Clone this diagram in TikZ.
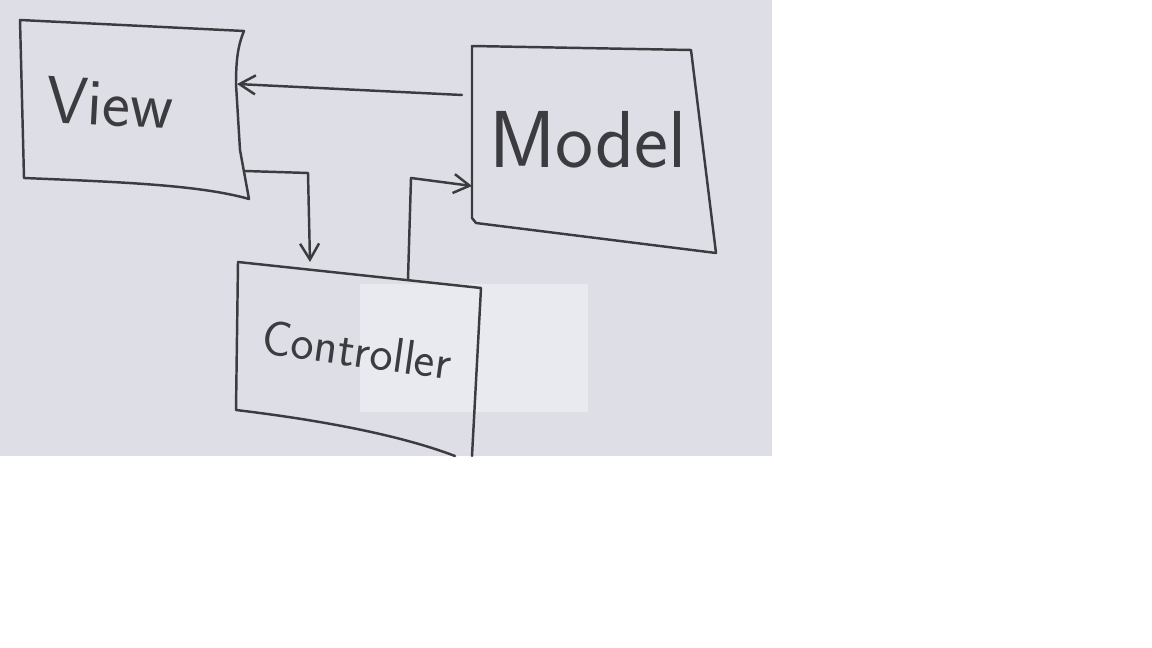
\documentclass[tikz,border=0pt]{standalone}
\usetikzlibrary{arrows.meta}
\definecolor{board}{RGB}{221,222,230}
\definecolor{patch}{RGB}{233,234,240}
\definecolor{ink}{RGB}{60,60,64}
\tikzset{
  pen/.style={draw=ink,line width=1.4pt,line join=round,line cap=round},
  link/.style={pen,-{Straight Barb[length=3.2mm,width=3.8mm,line width=1.4pt]}},
  label/.style={text=ink,font=\sffamily,inner sep=0pt}
}
\begin{document}
\begin{tikzpicture}[x=0.02cm,y=-0.02cm]
\useasboundingbox (0,0) rectangle (1152,648);
\fill[white] (0,0) rectangle (1152,648);
\fill[board] (0,0) rectangle (772,456);
\fill[patch] (360,284) rectangle (588,412);
% View box
\coordinate (v1) at (20,20);
\coordinate (v2) at (244,31);
\coordinate (v3) at (249,199);
\coordinate (v4) at (24,178);
\draw[pen] (v1) -- (v2) .. controls (238,45) and (236,60) .. (236,84) -- (240,150) -- (v3) .. controls (200,185) and (120,182) .. (v4) -- cycle;
% Model box
\coordinate (m1) at (472,46);
\coordinate (m2) at (691,50);
\coordinate (m3) at (716,253);
\coordinate (m4) at (476,223);
\draw[pen] (m1) -- (m2) -- (m3) -- (m4) -- (472,218) -- cycle;
% Controller box
\coordinate (c1) at (238,262);
\coordinate (c2) at (481,288);
\coordinate (c3) at (472,456);
\coordinate (c4) at (236,410);
\draw[pen] (c1) -- (c2) -- (c3);
\draw[pen] (c1) -- (c4) .. controls (320,420) and (400,435) .. (455,456);
% labels
\node[label,font=\sffamily\fontsize{38}{42}\selectfont,rotate=-3] (view) at (110,103) {View};
\node[label,font=\sffamily\fontsize{46}{50}\selectfont] (model) at (588,140) {Model};
\node[label,font=\sffamily\fontsize{28}{32}\selectfont,rotate=-8] (controller) at (357,350) {Controller};
% connector anchors
\coordinate (mOut) at (462,95);
\coordinate (vIn) at (237,84);
\coordinate (vOut) at (245,171);
\coordinate (vBend) at (308,173);
\coordinate (cIn) at (310,262);
\coordinate (cOut) at (408,279);
\coordinate (cBend) at (411,178);
\coordinate (mIn) at (472,186);
\draw[link] (mOut) -- (vIn);
\draw[link] (vOut) -- (vBend) -- (cIn);
\draw[link] (cOut) -- (cBend) -- (mIn);
\end{tikzpicture}
\end{document}
